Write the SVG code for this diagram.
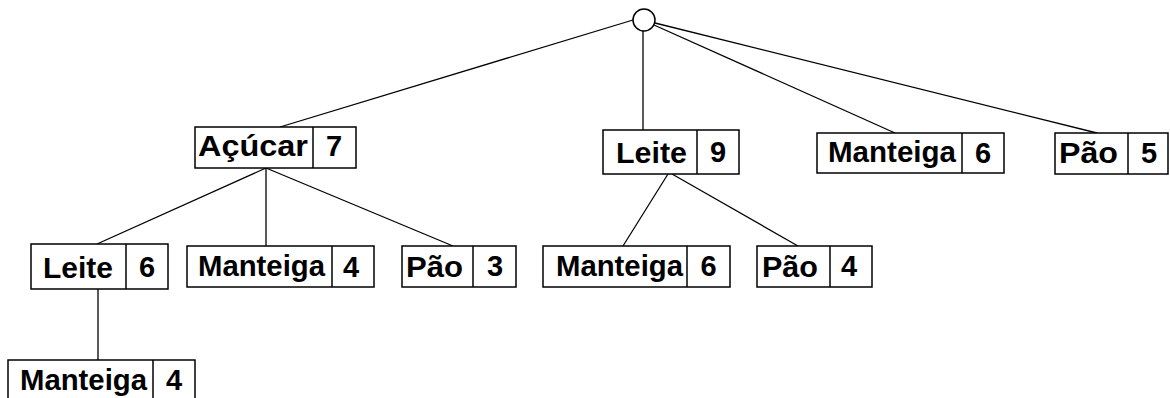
<svg xmlns="http://www.w3.org/2000/svg" width="1170" height="398" viewBox="0 0 1170 398">
<style>
.box{fill:#fff;stroke:#000;stroke-width:1.5}
.div{stroke:#000;stroke-width:1.5}
.edge{stroke:#000;stroke-width:1.3;fill:none}
text{font-family:"Liberation Sans",Arial,sans-serif;font-weight:bold;font-size:29px;fill:#000}
.num{text-anchor:middle}
</style>
<rect width="1170" height="398" fill="#fff"/>
<g id="connectors">
<line class="edge" x1="633" y1="20" x2="280" y2="127"/>
<line class="edge" x1="643" y1="31" x2="643" y2="130"/>
<line class="edge" x1="654" y1="25" x2="895" y2="133"/>
<line class="edge" x1="655" y1="23" x2="1097" y2="133"/>
<line class="edge" x1="266" y1="168" x2="97" y2="244"/>
<line class="edge" x1="266" y1="168" x2="266" y2="246"/>
<line class="edge" x1="266" y1="168" x2="453" y2="246"/>
<line class="edge" x1="668" y1="174" x2="623" y2="246"/>
<line class="edge" x1="672" y1="174" x2="798" y2="246"/>
<line class="edge" x1="98" y1="289" x2="98" y2="360"/>
</g>
<g id="root">
<circle cx="644" cy="20" r="11" fill="#fff" stroke="#000" stroke-width="1.5"/>
</g>
<g id="n-acucar">
<rect class="box" x="195" y="127" width="161" height="41"/>
<line class="div" x1="313" y1="127" x2="313" y2="168"/>
<text x="198" y="156" textLength="110" lengthAdjust="spacingAndGlyphs">Açúcar</text>
<text class="num" x="334" y="156">7</text>
</g>
<g id="n-leite9">
<rect class="box" x="603" y="130" width="136" height="44"/>
<line class="div" x1="697" y1="130" x2="697" y2="174"/>
<text x="616" y="163" textLength="71" lengthAdjust="spacingAndGlyphs">Leite</text>
<text class="num" x="718" y="162">9</text>
</g>
<g id="n-manteiga6-top">
<rect class="box" x="817" y="133" width="187" height="40"/>
<line class="div" x1="962" y1="133" x2="962" y2="173"/>
<text x="828" y="162" textLength="128" lengthAdjust="spacingAndGlyphs">Manteiga</text>
<text class="num" x="983" y="163">6</text>
</g>
<g id="n-pao5">
<rect class="box" x="1055" y="133" width="113" height="41"/>
<line class="div" x1="1128" y1="133" x2="1128" y2="174"/>
<text x="1059" y="163" textLength="59" lengthAdjust="spacingAndGlyphs">Pão</text>
<text class="num" x="1149" y="163">5</text>
</g>
<g id="n-leite6">
<rect class="box" x="31" y="244" width="137" height="45"/>
<line class="div" x1="126" y1="244" x2="126" y2="289"/>
<text x="43" y="278" textLength="70" lengthAdjust="spacingAndGlyphs">Leite</text>
<text class="num" x="147" y="277">6</text>
</g>
<g id="n-manteiga4">
<rect class="box" x="187" y="246" width="187" height="41"/>
<line class="div" x1="332" y1="246" x2="332" y2="287"/>
<text x="198" y="276" textLength="127" lengthAdjust="spacingAndGlyphs">Manteiga</text>
<text class="num" x="351" y="277">4</text>
</g>
<g id="n-pao3">
<rect class="box" x="402" y="246" width="114" height="41"/>
<line class="div" x1="473" y1="246" x2="473" y2="287"/>
<text x="406" y="277" textLength="57" lengthAdjust="spacingAndGlyphs">Pão</text>
<text class="num" x="495" y="276">3</text>
</g>
<g id="n-manteiga6">
<rect class="box" x="543" y="246" width="187" height="41"/>
<line class="div" x1="687" y1="246" x2="687" y2="287"/>
<text x="556" y="276" textLength="127" lengthAdjust="spacingAndGlyphs">Manteiga</text>
<text class="num" x="708.5" y="276">6</text>
</g>
<g id="n-pao4">
<rect class="box" x="757" y="246" width="115" height="41"/>
<line class="div" x1="830" y1="246" x2="830" y2="287"/>
<text x="762" y="277" textLength="56" lengthAdjust="spacingAndGlyphs">Pão</text>
<text class="num" x="849" y="276">4</text>
</g>
<g id="n-manteiga4-leaf">
<rect class="box" x="8" y="360" width="187" height="41"/>
<line class="div" x1="153" y1="360" x2="153" y2="401"/>
<text x="20" y="390" textLength="127" lengthAdjust="spacingAndGlyphs">Manteiga</text>
<text class="num" x="174" y="390">4</text>
</g>
</svg>
